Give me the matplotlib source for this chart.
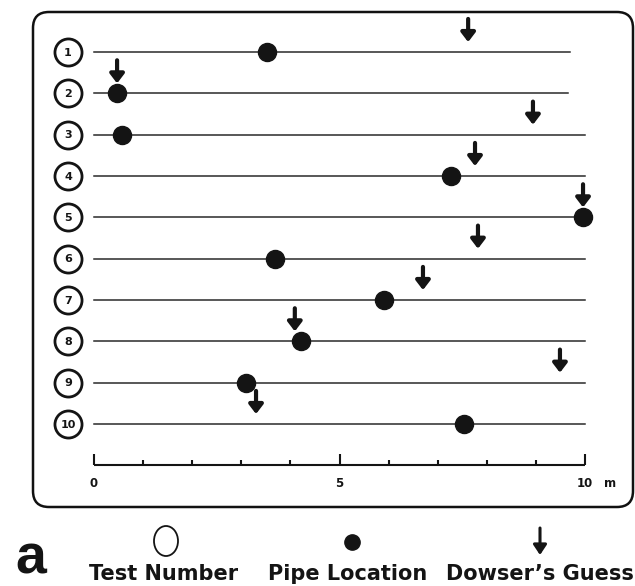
import matplotlib
matplotlib.use("Agg")
import matplotlib.pyplot as plt
from matplotlib.patches import FancyBboxPatch, Ellipse

# test rows, true pipe position (m) and the dowser's guess (m)
tests = [1, 2, 3, 4, 5, 6, 7, 8, 9, 10]
pipe_location = [3.52, 0.47, 0.57, 7.27, 9.96, 3.69, 5.91, 4.22, 3.09, 7.54]
dowser_guess = [7.62, 0.47, 8.94, 7.76, 9.96, 7.82, 6.70, 4.09, 9.49, 3.30]
line_end = [9.69, 9.65, 10, 10, 10, 10, 10, 10, 10, 10]
scale_ticks = [0, 1, 2, 3, 4, 5, 6, 7, 8, 9, 10]
scale_labels = [0, 5, 10]
legend_labels = ["Test Number", "Pipe Location", "Dowser’s Guess"]

W, H = 635, 586
fig = plt.figure(figsize=(W / 100, H / 100), dpi=100)

# background axes in pixel units for the frame and the key
bg = fig.add_axes([0, 0, 1, 1])
bg.set_xlim(0, W)
bg.set_ylim(H, 0)
bg.axis("off")
frame = FancyBboxPatch((33, 12), 600, 495, boxstyle="round,pad=0,rounding_size=16",
                       fc="none", ec="#111111", lw=1.8)
bg.add_patch(frame)

# data axes: x in metres, y in test rows
ax = fig.add_axes([0, 0, 1, 1])
ax.patch.set_alpha(0)
ax.set_xlim(-94 / 49.1, (W - 94) / 49.1)
ax.set_ylim((H - 52) / 41.33 + 1, -52 / 41.33 + 1)
ax.axis("off")

ink = "#141414"
for t, end in zip(tests, line_end):
    ax.plot([0, end], [t, t], color="#2a2a2a", lw=1.1, zorder=1)
    ax.plot(-0.53, t, "o", ms=19.5, mfc="white", mec=ink, mew=2.0, zorder=3)
    ax.text(-0.53, t + 0.02, str(t), ha="center", va="center", fontsize=8,
            fontweight="bold", color=ink, zorder=4)

ax.plot(pipe_location, tests, "o", ms=13, color=ink, zorder=3)

for t, g in zip(tests, dowser_guess):
    ax.annotate("", xy=(g, t - 0.24), xytext=(g, t - 0.80),
                arrowprops=dict(arrowstyle="-|>,head_length=0.55,head_width=0.42",
                                color=ink, lw=3.0, shrinkA=0, shrinkB=0), zorder=4)

# metre scale
y0 = 11.0
ax.plot([0, 10], [y0, y0], color=ink, lw=1.5, solid_capstyle="butt")
for x in scale_ticks:
    top = y0 - 0.27 if x in scale_labels else y0 - 0.14
    ax.plot([x, x], [y0, top], color=ink, lw=1.5, solid_capstyle="butt")
for x in scale_labels:
    ax.text(x, y0 + 0.45, str(x), ha="center", va="center", fontsize=8.5,
            fontweight="bold", color=ink)
ax.text(10.38, y0 + 0.45, "m", ha="left", va="center", fontsize=8.5,
        fontweight="bold", color=ink)

# key
bg.add_patch(Ellipse((166, 541), 24, 30, fc="white", ec=ink, lw=1.3))
bg.plot(352, 542, "o", ms=11, color=ink)
bg.annotate("", xy=(540, 555), xytext=(540, 528),
            arrowprops=dict(arrowstyle="-|>,head_length=0.6,head_width=0.4",
                            color=ink, lw=2.2, shrinkA=0, shrinkB=0))
for x, lab in zip([164, 348, 540], legend_labels):
    bg.text(x, 574, lab, ha="center", va="center", fontsize=15,
            fontweight="bold", color=ink)
bg.text(31, 586, "a", ha="center", va="bottom", fontsize=40,
        fontweight="bold", family="Liberation Sans", color=ink)

plt.savefig("out.png", dpi=100)
